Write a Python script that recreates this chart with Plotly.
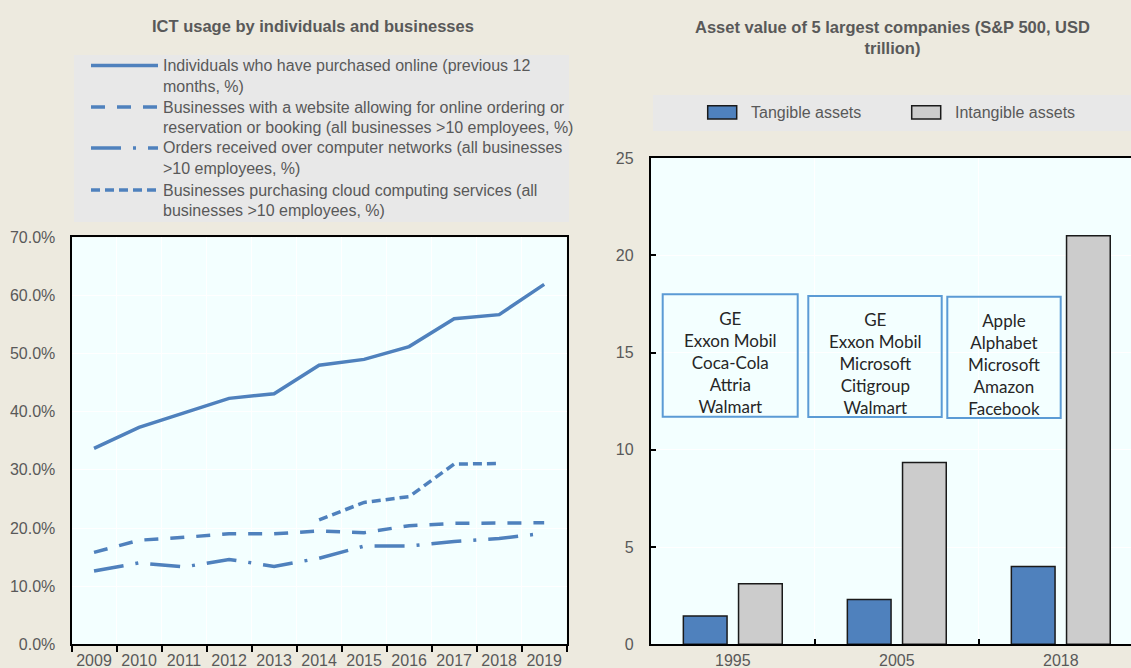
import plotly.graph_objects as go

# ---------------- data ----------------
years = ["2009", "2010", "2011", "2012", "2013", "2014", "2015", "2016", "2017", "2018", "2019"]
purchased_online = [33.7, 37.3, 39.8, 42.3, 43.1, 48.0, 49.0, 51.2, 56.0, 56.7, 61.9]
website_ordering = [15.8, 17.9, 18.4, 19.0, 19.0, 19.5, 19.2, 20.4, 20.8, 20.8, 20.9]
orders_networks = [12.6, 14.0, 13.3, 14.6, 13.4, 14.8, 16.9, 16.9, 17.7, 18.2, 19.1]
cloud_computing = [None, None, None, None, None, 21.4, 24.4, 25.4, 31.0, 31.1, None]

line_names = [
    ["Individuals who have purchased online (previous 12", "months, %)"],
    ["Businesses with a website allowing for online ordering or",
     "reservation or booking (all businesses >10 employees, %)"],
    ["Orders received over computer networks (all businesses", ">10 employees, %)"],
    ["Businesses purchasing cloud computing services (all", "businesses >10 employees, %)"],
]

periods = ["1995", "2005", "2018"]
tangible = [1.45, 2.30, 4.0]
intangible = [3.11, 9.34, 21.0]
bar_names = ["Tangible assets", "Intangible assets"]

companies = [
    ["GE", "Exxon Mobil", "Coca-Cola", "Attria", "Walmart"],
    ["GE", "Exxon Mobil", "Microsoft", "Citigroup", "Walmart"],
    ["Apple", "Alphabet", "Microsoft", "Amazon", "Facebook"],
]

left_title = "ICT usage by individuals and businesses"
right_title = "Asset value of 5 largest companies (S&P 500, USD<br>trillion)"

# ---------------- style ----------------
W, H = 1131, 668
BG = "#EDEADF"
PLOT_BG = "#F3FFFF"
LEG_BG = "#E8E8E8"
BLUE = "#4F81BD"
GREY = "#CCCCCC"
TXT = "#595959"
FONT = "Liberation Sans Narrow, Arial Narrow, Liberation Sans, Arial, sans-serif"
BOXFONT = "Lato, Open Sans, sans-serif"


def px(x):
    return x / W


def py(y):
    return 1 - y / H


dashes = ["solid", "14px,12px", "30px,12px,3px,12px", "9px,5px"]
series = [purchased_online, website_ordering, orders_networks, cloud_computing]

fig = go.Figure()

for vals, dash, nm in zip(series, dashes, line_names):
    fig.add_trace(go.Scatter(
        x=years, y=vals, mode="lines", name=" ".join(nm),
        line=dict(color=BLUE, width=3.5, dash=dash),
        connectgaps=False, showlegend=False,
        xaxis="x", yaxis="y",
    ))

fig.add_trace(go.Bar(
    x=periods, y=tangible, name=bar_names[0],
    marker=dict(color=BLUE, line=dict(color="#1a1a1a", width=1.5)),
    showlegend=False, xaxis="x2", yaxis="y2",
))
fig.add_trace(go.Bar(
    x=periods, y=intangible, name=bar_names[1],
    marker=dict(color=GREY, line=dict(color="#1a1a1a", width=1.5)),
    showlegend=False, xaxis="x2", yaxis="y2",
))

shapes = []
annotations = []

# ---- titles ----
annotations.append(dict(text="<b>" + left_title + "</b>", x=px(313), y=py(26), xref="paper", yref="paper",
                        showarrow=False, xanchor="center", yanchor="middle",
                        font=dict(family=FONT, size=16.5, color=TXT)))
annotations.append(dict(text="<b>" + right_title + "</b>", x=px(892.6), y=py(38), xref="paper", yref="paper",
                        showarrow=False, xanchor="center", yanchor="middle",
                        font=dict(family=FONT, size=16.5, color=TXT)))

# ---- left legend ----
shapes.append(dict(type="rect", xref="paper", yref="paper", x0=px(74), x1=px(569), y0=py(55), y1=py(222),
                   fillcolor=LEG_BG, line=dict(width=0), layer="below"))
sample_y = [65.5, 107, 148, 190]
for i, (nm, dash) in enumerate(zip(line_names, dashes)):
    yy = sample_y[i]
    shapes.append(dict(type="line", xref="paper", yref="paper", x0=px(91), x1=px(158), y0=py(yy), y1=py(yy),
                       line=dict(color=BLUE, width=3.5, dash=dash)))
    for j, ln in enumerate(nm):
        annotations.append(dict(text=ln, x=px(161), y=py(yy + j * 21), xref="paper", yref="paper",
                                showarrow=False, xanchor="left", yanchor="middle",
                                font=dict(family=FONT, size=16, color=TXT)))

# ---- right legend ----
shapes.append(dict(type="rect", xref="paper", yref="paper", x0=px(653), x1=px(1131), y0=py(95), y1=py(131),
                   fillcolor=LEG_BG, line=dict(width=0), layer="below"))
for sx, col, nm in [(707.7, BLUE, bar_names[0]), (911.7, GREY, bar_names[1])]:
    shapes.append(dict(type="rect", xref="paper", yref="paper", x0=px(sx), x1=px(sx + 29),
                       y0=py(105.7), y1=py(119), fillcolor=col, line=dict(color="#1a1a1a", width=1.5)))
    annotations.append(dict(text=nm, x=px(sx + 41), y=py(112.5), xref="paper", yref="paper",
                            showarrow=False, xanchor="left", yanchor="middle",
                            font=dict(family=FONT, size=16, color=TXT)))

# ---- company boxes ----
boxes = [(662.7, 797.7, 294.3, 416.7, 730, 362.3),
         (808.3, 941.7, 296, 417, 875, 363.3),
         (947.3, 1060.7, 296.7, 418, 1004, 365)]
for (x0, x1, y0, y1, cx, cy), names in zip(boxes, companies):
    shapes.append(dict(type="rect", xref="paper", yref="paper", x0=px(x0), x1=px(x1), y0=py(y0), y1=py(y1),
                       line=dict(color="#5B9BD5", width=2), fillcolor="rgba(0,0,0,0)"))
    annotations.append(dict(text="<br>".join(names), x=px(cx), y=py(cy), xref="paper", yref="paper",
                            showarrow=False, xanchor="center", yanchor="middle", align="center",
                            font=dict(family=BOXFONT, size=17, color="#262626")))

axis_font = dict(family=FONT, size=16, color=TXT)

fig.update_layout(
    width=W, height=H, margin=dict(l=0, r=0, t=0, b=0, pad=0), autosize=False,
    paper_bgcolor=BG, plot_bgcolor=PLOT_BG,
    barmode="group", bargap=0.327, bargroupgap=0.208,
    shapes=shapes, annotations=annotations,
    xaxis=dict(domain=[px(71.5), px(566.7)], type="category", tickson="boundaries",
               range=[-0.5, len(years) - 0.5],
               ticks="outside", ticklen=6, tickcolor="black", tickwidth=1.5, tickangle=0,
               showline=True, linecolor="black", linewidth=2, mirror=True,
               showgrid=True, gridcolor="white", gridwidth=1, automargin=False,
               tickfont=axis_font, anchor="y"),
    yaxis=dict(domain=[1 - 644.3 / H, 1 - 237.3 / H], range=[0, 70], dtick=10,
               tickformat=".1f", ticksuffix="%", ticks="", ticklabelstandoff=11,
               showline=True, linecolor="black", linewidth=2, mirror=True,
               showgrid=True, gridcolor="white", gridwidth=1, zeroline=False, automargin=False,
               tickfont=axis_font, anchor="x"),
    xaxis2=dict(domain=[px(650.8), 1], type="category", range=[-0.5, -0.5 + (W - 650.8) / 164],
                tickson="boundaries", ticks="inside", ticklen=5, tickcolor="black", tickwidth=1.5,
                tickangle=0,
                showline=True, linecolor="black", linewidth=2, mirror=True,
                showgrid=True, gridcolor="white", gridwidth=1, automargin=False,
                tickfont=axis_font, anchor="y2"),
    yaxis2=dict(domain=[1 - 644.3 / H, 1 - 158 / H], range=[0, 25], dtick=5,
                ticks="inside", ticklen=5, tickcolor="black", tickwidth=1.5, ticklabelstandoff=12,
                showline=True, linecolor="black", linewidth=2, mirror=False,
                showgrid=True, gridcolor="white", gridwidth=1, zeroline=False, automargin=False,
                tickfont=axis_font, anchor="x2"),
)

fig.write_html("out.html", config={"displayModeBar": False},
               post_script="document.body.style.margin='0';document.body.style.overflow='hidden';")
